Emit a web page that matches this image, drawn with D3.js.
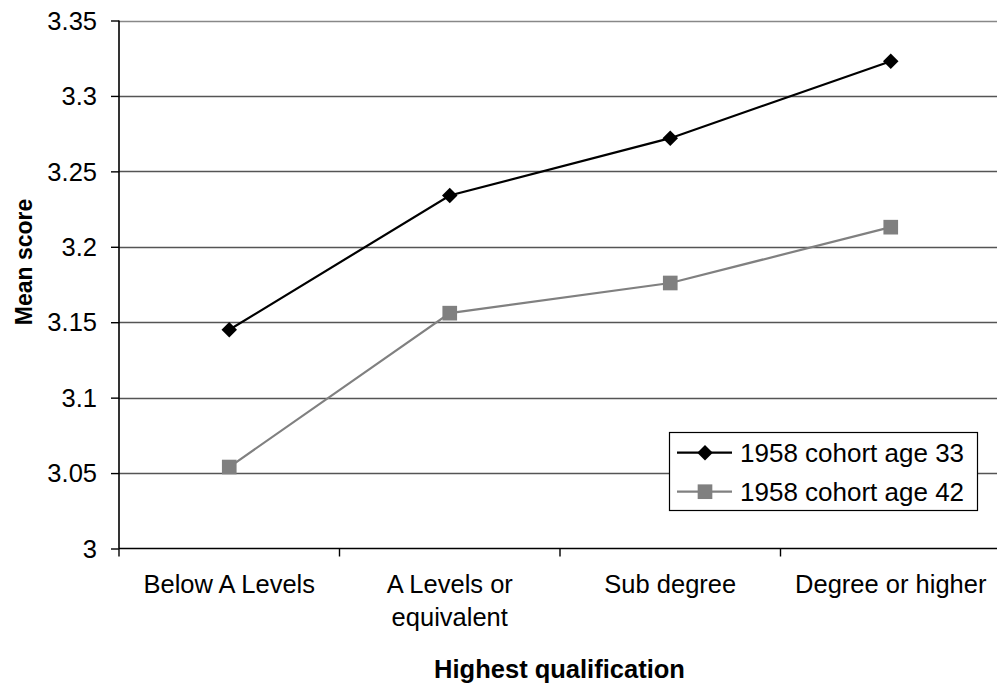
<!DOCTYPE html>
<html><head><meta charset="utf-8">
<script src="https://cdn.jsdelivr.net/npm/d3@7"></script>
<style>body{margin:0;background:#fff}svg{display:block}text{font-family:"Liberation Sans",Arial,sans-serif;fill:#000}</style>
</head><body><svg id="c" width="997" height="688"></svg>
<script>
const categories = [["Below A Levels"], ["A Levels or", "equivalent"], ["Sub degree"], ["Degree or higher"]];
const seriesNames = ["1958 cohort age 33", "1958 cohort age 42"];
const age33 = [3.145, 3.234, 3.272, 3.323];
const age42 = [3.054, 3.156, 3.176, 3.213];
const yTicks = [3, 3.05, 3.1, 3.15, 3.2, 3.25, 3.3, 3.35];
const yTickLabels = ["3", "3.05", "3.1", "3.15", "3.2", "3.25", "3.3", "3.35"];

const svg = d3.select("#c");
const L = 119, R = 1001, T = 20.5, B = 548.5;
const x = d3.scaleBand().domain(d3.range(categories.length)).range([L, R]);
const y = d3.scaleLinear().domain([3, 3.35]).range([B, T]);

// gridlines
svg.append("g").selectAll("line").data(yTicks.slice(1)).join("line")
  .attr("x1", L).attr("x2", R).attr("y1", d => Math.round(y(d)) + 0.5).attr("y2", d => Math.round(y(d)) + 0.5)
  .attr("stroke", (d, i) => i === yTicks.length - 2 ? "#888" : "#555").attr("stroke-width", 1.3);

// y axis
const yAxis = d3.axisLeft(y).tickValues(yTicks).tickFormat((d, i) => yTickLabels[i]).tickSize(8).tickPadding(14);
const gy = svg.append("g").attr("transform", `translate(${L},0)`).call(yAxis);
gy.select(".domain").attr("stroke", "#000").attr("stroke-width", 1.6).attr("d", `M0,${T}V${B}`);
gy.selectAll(".tick line").attr("stroke", "#000").attr("stroke-width", 1.4);
gy.selectAll(".tick text").style("font-size", "25.5px").attr("fill", "#000").attr("dy", "0.34em");

// x axis
svg.append("line").attr("x1", L).attr("x2", R).attr("y1", B).attr("y2", B).attr("stroke", "#000").attr("stroke-width", 1.6);
const bounds = d3.range(categories.length + 1).map(i => L + i * x.bandwidth());
svg.append("g").selectAll("line").data(bounds).join("line")
  .attr("x1", d => d).attr("x2", d => d).attr("y1", B).attr("y2", B + 8).attr("stroke", "#000").attr("stroke-width", 1.4);
const xl = svg.append("g").selectAll("text").data(categories).join("text")
  .attr("x", (d, i) => x(i) + x.bandwidth() / 2).attr("y", 593)
  .attr("text-anchor", "middle").style("font-size", "25.5px");
xl.selectAll("tspan").data(d => d).join("tspan")
  .attr("x", function () { return this.parentNode.getAttribute("x"); })
  .attr("dy", (d, i) => i === 0 ? 0 : 32.5).text(d => d);

// titles
svg.append("text").attr("x", (L + 1000) / 2).attr("y", 678).attr("text-anchor", "middle")
  .style("font-size", "25.5px").style("font-weight", "bold").text("Highest qualification");
svg.append("text").attr("transform", "translate(32,262) rotate(-90)").attr("text-anchor", "middle")
  .style("font-size", "23px").style("font-weight", "bold").text("Mean score");

// series
const cx = i => x(i) + x.bandwidth() / 2;
const line = d3.line().x((d, i) => cx(i)).y(d => y(d));
const diamond = { draw(ctx, size) { const r = Math.sqrt(size / 2); ctx.moveTo(0, -r); ctx.lineTo(r, 0); ctx.lineTo(0, r); ctx.lineTo(-r, 0); ctx.closePath(); } };
const styles = [
  { data: age33, color: "#000", sym: diamond, size: 120 },
  { data: age42, color: "#808080", sym: d3.symbolSquare, size: 215 }
];
styles.forEach(s => {
  svg.append("path").attr("d", line(s.data)).attr("fill", "none").attr("stroke", s.color).attr("stroke-width", 2.2);
  svg.append("g").selectAll("path").data(s.data).join("path")
    .attr("transform", (d, i) => `translate(${cx(i)},${y(d)})`)
    .attr("d", d3.symbol().type(s.sym).size(s.size)).attr("fill", s.color);
});

// legend
const lg = svg.append("g");
lg.append("rect").attr("x", 669.5).attr("y", 432.5).attr("width", 308).attr("height", 78)
  .attr("fill", "#fff").attr("stroke", "#000").attr("stroke-width", 1.2);
const rows = [452.7, 491.7];
styles.forEach((s, i) => {
  lg.append("line").attr("x1", 677).attr("x2", 732).attr("y1", rows[i]).attr("y2", rows[i])
    .attr("stroke", s.color).attr("stroke-width", 2.2);
  lg.append("path").attr("transform", `translate(705,${rows[i]})`)
    .attr("d", d3.symbol().type(s.sym).size(s.size)).attr("fill", s.color);
  lg.append("text").attr("x", 740).attr("y", rows[i]).attr("dy", "0.35em")
    .style("font-size", "26px").text(seriesNames[i]);
});
</script></body></html>
